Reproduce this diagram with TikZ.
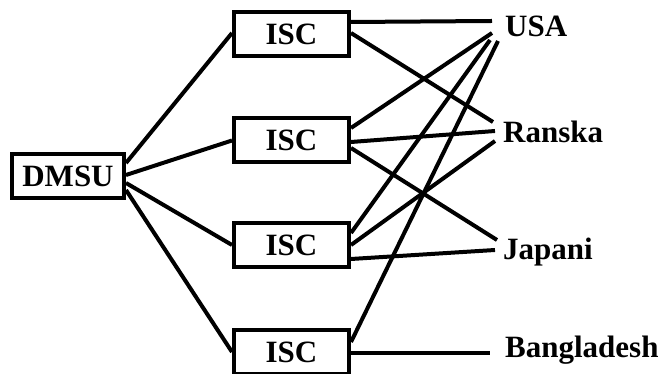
\documentclass[tikz,border=0pt]{standalone}
\usepackage{fontspec}
\setmainfont{Liberation Serif}

\tikzset{
    box/.style={draw, line width=4pt, minimum width=115pt, minimum height=44pt, inner sep=0pt, font=\bfseries\fontsize{31}{37}\selectfont},
    lbl/.style={anchor=base west, inner sep=0pt, font=\bfseries\fontsize{31}{37}\selectfont},
    link/.style={line width=4pt}
}

\begin{document}
\begin{tikzpicture}[x=1pt,y=1pt]
    \useasboundingbox (0,0) rectangle (662,374);

        \node[box, minimum width=112pt] (dmsu) at (68,198) {DMSU};

        \foreach \i/\y in {1/340,2/233.5,3/129,4/22}
        {
            \node[box] (isc\i) at (291.5,\y) {ISC};
        }

        \node[lbl] (usa) at (505,337) {USA};
        \node[lbl] (ranska) at (503,231) {Ranska};
        \node[lbl] (japani) at (503,114) {Japani};
        \node[lbl] (bangladesh) at (505,16) {Bangladesh};

        \foreach \i/\a/\b in {1/13/1,2/1/0,3/-7/0,4/-14/0}
        {
            \draw[link] ([yshift=\a]dmsu.east) -- ([yshift=\b]isc\i.west);
        }

        \foreach \i/\a/\t/\dx/\dy in {1/12/usa/-13/16,1/1/ranska/-10/21,
            2/12.5/usa/-13/4,2/-1.5/ranska/-8/12,2/-7.5/japani/-6/20,
            3/12/usa/-15/-3,3/0/ranska/-8/2,3/-14/japani/-8/10,
            4/10/usa/-7/-4,4/-1/bangladesh/-15/5}
        {
            \draw[link] ([yshift=\a]isc\i.east) -- ([xshift=\dx,yshift=\dy]\t.base west);
        }
\end{tikzpicture}
\end{document}
